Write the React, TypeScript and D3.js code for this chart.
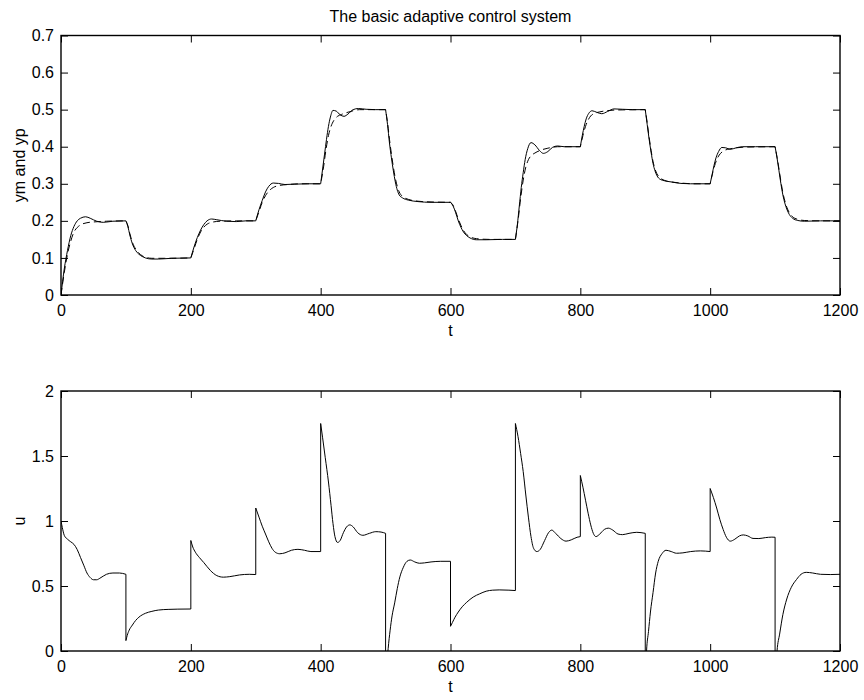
import * as React from "react";
import * as d3 from "d3";

// reference model output ym (dashed) and plant output yp (solid)
const ymData: [number, number][] = [
  [0, 0], [5, 0.06], [10, 0.11], [15, 0.145], [20, 0.17], [25, 0.182], [30, 0.189], [40, 0.195], [50, 0.197], [70, 0.199], [100, 0.2],
  [103, 0.187], [106, 0.166], [110, 0.142], [115, 0.124], [120, 0.113], [125, 0.106], [130, 0.102], [140, 0.099], [160, 0.099], [200, 0.1],
  [205, 0.125], [210, 0.15], [215, 0.17], [220, 0.183], [225, 0.191], [232, 0.196], [245, 0.199], [270, 0.2], [300, 0.2],
  [305, 0.225], [310, 0.25], [315, 0.268], [320, 0.28], [327, 0.29], [335, 0.295], [350, 0.298], [370, 0.3], [400, 0.3],
  [404, 0.34], [408, 0.39], [412, 0.43], [416, 0.455], [420, 0.47], [426, 0.482], [432, 0.487], [440, 0.492], [450, 0.497], [460, 0.5], [500, 0.5],
  [503, 0.465], [506, 0.42], [509, 0.38], [512, 0.345], [515, 0.315], [518, 0.293], [521, 0.278], [526, 0.266], [535, 0.258], [550, 0.253], [570, 0.251], [600, 0.25],
  [604, 0.242], [608, 0.225], [612, 0.205], [616, 0.188], [620, 0.174], [625, 0.163], [630, 0.157], [640, 0.152], [660, 0.15], [700, 0.15],
  [704, 0.2], [708, 0.26], [712, 0.31], [716, 0.345], [720, 0.365], [725, 0.377], [730, 0.383], [738, 0.39], [750, 0.396], [765, 0.4], [800, 0.4],
  [804, 0.43], [808, 0.455], [812, 0.472], [816, 0.483], [822, 0.49], [830, 0.494], [840, 0.497], [855, 0.499], [900, 0.5],
  [903, 0.465], [906, 0.425], [909, 0.39], [912, 0.36], [915, 0.34], [918, 0.327], [923, 0.316], [930, 0.309], [940, 0.305], [955, 0.302], [975, 0.3], [1000, 0.3],
  [1004, 0.33], [1008, 0.355], [1012, 0.372], [1016, 0.382], [1022, 0.39], [1030, 0.394], [1040, 0.397], [1055, 0.399], [1100, 0.4],
  [1103, 0.372], [1106, 0.34], [1109, 0.306], [1112, 0.276], [1115, 0.254], [1118, 0.237], [1122, 0.222], [1127, 0.211], [1135, 0.204], [1145, 0.201], [1170, 0.2], [1200, 0.2],
];

const ypData: [number, number][] = [
  [0, 0], [5, 0.07], [10, 0.12], [15, 0.16], [20, 0.185], [25, 0.2], [30, 0.207], [38, 0.211], [45, 0.207], [55, 0.199], [65, 0.196], [80, 0.199], [100, 0.2],
  [103, 0.185], [106, 0.162], [110, 0.138], [115, 0.12], [120, 0.11], [125, 0.104], [130, 0.1], [140, 0.097], [150, 0.097], [170, 0.099], [200, 0.1],
  [205, 0.13], [210, 0.155], [215, 0.175], [220, 0.19], [225, 0.2], [232, 0.205], [240, 0.203], [255, 0.199], [270, 0.198], [285, 0.2], [300, 0.2],
  [305, 0.23], [310, 0.255], [315, 0.278], [320, 0.293], [327, 0.302], [335, 0.301], [345, 0.298], [360, 0.299], [380, 0.3], [400, 0.3],
  [403, 0.34], [406, 0.38], [409, 0.42], [412, 0.455], [415, 0.48], [419, 0.498], [424, 0.496], [430, 0.486], [436, 0.482], [442, 0.488], [450, 0.5], [458, 0.503], [470, 0.501], [485, 0.5], [500, 0.5],
  [503, 0.46], [506, 0.41], [509, 0.37], [512, 0.335], [515, 0.305], [518, 0.283], [521, 0.27], [526, 0.262], [535, 0.256], [550, 0.252], [570, 0.25], [600, 0.25],
  [604, 0.24], [608, 0.222], [612, 0.2], [616, 0.183], [620, 0.17], [625, 0.16], [630, 0.154], [640, 0.149], [655, 0.149], [680, 0.15], [700, 0.15],
  [703, 0.19], [706, 0.24], [709, 0.29], [712, 0.33], [715, 0.365], [719, 0.395], [724, 0.411], [730, 0.405], [737, 0.39], [743, 0.382], [750, 0.387], [757, 0.398], [765, 0.402], [775, 0.4], [800, 0.4],
  [803, 0.43], [806, 0.455], [809, 0.475], [813, 0.49], [818, 0.497], [825, 0.493], [833, 0.489], [842, 0.495], [852, 0.502], [865, 0.501], [880, 0.5], [900, 0.5],
  [903, 0.46], [906, 0.42], [909, 0.385], [912, 0.355], [915, 0.335], [918, 0.322], [923, 0.312], [930, 0.308], [940, 0.305], [955, 0.301], [970, 0.3], [1000, 0.3],
  [1003, 0.325], [1006, 0.35], [1009, 0.37], [1013, 0.387], [1018, 0.398], [1024, 0.397], [1031, 0.393], [1040, 0.397], [1050, 0.4], [1070, 0.4], [1100, 0.4],
  [1103, 0.37], [1106, 0.335], [1109, 0.3], [1112, 0.27], [1115, 0.248], [1118, 0.232], [1122, 0.217], [1127, 0.207], [1135, 0.201], [1145, 0.199], [1170, 0.2], [1200, 0.2],
];

// control signal u, jumps are written as two points at the same t
const uData: [number, number][] = [
  [0, 1.0], [2, 0.95], [5, 0.89], [10, 0.86], [15, 0.84], [20, 0.82], [25, 0.78], [30, 0.72], [35, 0.66], [40, 0.6], [45, 0.565], [50, 0.548], [55, 0.548], [60, 0.56], [70, 0.59], [80, 0.6], [90, 0.6], [100, 0.59],
  [100, 0.08], [102, 0.12], [105, 0.16], [110, 0.2], [115, 0.235], [120, 0.26], [130, 0.29], [140, 0.305], [150, 0.315], [165, 0.32], [180, 0.322], [200, 0.323],
  [200, 0.85], [203, 0.8], [207, 0.76], [213, 0.72], [220, 0.68], [230, 0.62], [240, 0.58], [250, 0.568], [260, 0.572], [275, 0.585], [290, 0.59], [300, 0.588],
  [300, 1.1], [305, 1.03], [310, 0.96], [315, 0.9], [320, 0.84], [325, 0.79], [330, 0.76], [337, 0.748], [345, 0.755], [355, 0.775], [365, 0.782], [375, 0.775], [385, 0.765], [400, 0.765],
  [400, 1.75], [403, 1.64], [407, 1.49], [412, 1.3], [416, 1.12], [419, 0.98], [422, 0.88], [426, 0.835], [430, 0.85], [435, 0.91], [440, 0.955], [445, 0.97], [450, 0.955], [457, 0.91], [465, 0.89], [475, 0.905], [485, 0.918], [493, 0.915], [500, 0.905],
  [500, -0.3], [502, -0.1], [504, 0.02], [507, 0.16], [510, 0.27], [514, 0.37], [518, 0.48], [522, 0.57], [527, 0.64], [533, 0.69], [538, 0.7], [545, 0.685], [552, 0.675], [560, 0.678], [570, 0.685], [585, 0.69], [600, 0.69],
  [600, 0.19], [603, 0.22], [607, 0.26], [612, 0.3], [618, 0.34], [625, 0.375], [635, 0.415], [645, 0.44], [655, 0.46], [665, 0.468], [675, 0.47], [690, 0.468], [700, 0.465],
  [700, 1.75], [704, 1.65], [708, 1.52], [712, 1.38], [716, 1.2], [720, 1.03], [724, 0.88], [728, 0.79], [733, 0.765], [738, 0.78], [745, 0.85], [751, 0.91], [756, 0.93], [762, 0.905], [770, 0.865], [778, 0.845], [786, 0.855], [795, 0.875], [800, 0.88],
  [800, 1.35], [804, 1.26], [808, 1.16], [812, 1.06], [816, 0.97], [820, 0.905], [824, 0.88], [830, 0.9], [837, 0.935], [843, 0.945], [850, 0.93], [858, 0.9], [865, 0.895], [875, 0.905], [887, 0.913], [900, 0.905],
  [900, -0.25], [902, 0.0], [905, 0.15], [908, 0.3], [912, 0.45], [916, 0.6], [920, 0.69], [926, 0.75], [932, 0.775], [940, 0.765], [948, 0.752], [958, 0.755], [970, 0.765], [985, 0.77], [1000, 0.765],
  [1000, 1.25], [1005, 1.18], [1010, 1.1], [1015, 1.01], [1020, 0.935], [1025, 0.875], [1031, 0.845], [1038, 0.86], [1045, 0.885], [1051, 0.893], [1058, 0.885], [1066, 0.866], [1075, 0.865], [1085, 0.872], [1095, 0.876], [1100, 0.875],
  [1100, -0.25], [1103, 0.0], [1107, 0.13], [1112, 0.28], [1118, 0.4], [1125, 0.49], [1133, 0.55], [1140, 0.59], [1148, 0.605], [1158, 0.6], [1170, 0.59], [1185, 0.588], [1200, 0.59],
];

const stepPeriod = 100;
const xTicks = [0, 200, 400, 600, 800, 1000, 1200];
const yTicksTop = [0, 0.1, 0.2, 0.3, 0.4, 0.5, 0.6, 0.7];
const yTicksBottom = [0, 0.5, 1, 1.5, 2];

const FONT = "'Liberation Sans', Arial, Helvetica, sans-serif";

// split a series at the reference steps so each piece gets its own smooth curve
function splitAtSteps(pts: [number, number][]) {
  const segs: [number, number][][] = [];
  let cur: [number, number][] = [pts[0]];
  for (let i = 1; i < pts.length; i++) {
    const t = pts[i][0];
    const pt = pts[i - 1][0];
    if (t === pt) {
      segs.push(cur);
      cur = [pts[i]];
      continue;
    }
    if (pt % stepPeriod === 0 && i > 1 && cur.length > 1) {
      segs.push(cur);
      cur = [pts[i - 1]];
    }
    cur.push(pts[i]);
  }
  segs.push(cur);
  return segs;
}

function drawPanel(svg, opts) {
  const { left, right, top, bottom, yMax, yTicks, series, yLabel, id } = opts;
  const x = d3.scaleLinear().domain([0, 1200]).range([left, right]);
  const y = d3.scaleLinear().domain([0, yMax]).range([bottom, top]);
  const g = svg.append("g");

  g.append("clipPath")
    .attr("id", id)
    .append("rect")
    .attr("x", left)
    .attr("y", top)
    .attr("width", right - left)
    .attr("height", bottom - top);

  const fmt = (d) => d3.format("~g")(d);
  const tick = 7;

  const bx = g.append("g").attr("transform", `translate(0,${bottom})`)
    .call(d3.axisBottom(x).tickValues(xTicks).tickSizeInner(-tick).tickSizeOuter(0).tickPadding(10).tickFormat(fmt));
  const tx = g.append("g").attr("transform", `translate(0,${top})`)
    .call(d3.axisTop(x).tickValues(xTicks).tickSizeInner(-tick).tickSizeOuter(0).tickFormat(() => ""));
  const ly = g.append("g").attr("transform", `translate(${left},0)`)
    .call(d3.axisLeft(y).tickValues(yTicks).tickSizeInner(-tick).tickSizeOuter(0).tickPadding(7).tickFormat(fmt));
  const ry = g.append("g").attr("transform", `translate(${right},0)`)
    .call(d3.axisRight(y).tickValues(yTicks).tickSizeInner(-tick).tickSizeOuter(0).tickFormat(() => ""));

  [bx, tx, ly, ry].forEach((a) => {
    a.select(".domain").remove();
    a.selectAll("line").attr("stroke", "#000").attr("stroke-width", 1);
    a.selectAll("text").attr("fill", "#000").style("font-family", FONT).style("font-size", "16px");
  });

  g.append("rect")
    .attr("x", left)
    .attr("y", top)
    .attr("width", right - left)
    .attr("height", bottom - top)
    .attr("fill", "none")
    .attr("stroke", "#000")
    .attr("stroke-width", 1.4);

  const line = d3.line().x((d) => x(d[0])).y((d) => y(d[1])).curve(d3.curveMonotoneX);

  series.forEach((s) => {
    const d = splitAtSteps(s.data)
      .map((seg, i) => {
        const p = line(seg);
        return i ? p.replace(/^M/, "L") : p;
      })
      .join("");
    g.append("path")
      .attr("d", d)
      .attr("clip-path", `url(#${id})`)
      .attr("fill", "none")
      .attr("stroke", "#000")
      .attr("stroke-width", 1)
      .attr("stroke-dasharray", s.dash || null);
  });

  g.append("text")
    .attr("x", (left + right) / 2)
    .attr("y", bottom + 41)
    .attr("text-anchor", "middle")
    .style("font-family", FONT)
    .style("font-size", "16px")
    .text("t");

  g.append("text")
    .attr("transform", `translate(25,${(top + bottom) / 2}) rotate(-90)`)
    .attr("text-anchor", "middle")
    .style("font-family", FONT)
    .style("font-size", "16px")
    .text(yLabel);
}

function drawChart(svgRef) {
  const width = 864;
  const height = 700;
  const left = 61;
  const right = 840;

  const svg = d3.select(svgRef.current).attr("width", width).attr("height", height);
  svg.selectAll("*").remove();

  svg.append("rect").attr("width", width).attr("height", height).attr("fill", "#fff");

  svg.append("text")
    .attr("x", (left + right) / 2)
    .attr("y", 22)
    .attr("text-anchor", "middle")
    .style("font-family", FONT)
    .style("font-size", "16px")
    .text("The basic adaptive control system");

  drawPanel(svg, {
    id: "clip-top",
    left,
    right,
    top: 35.5,
    bottom: 295,
    yMax: 0.7,
    yTicks: yTicksTop,
    yLabel: "ym and yp",
    series: [
      { data: ymData, dash: "7,4" },
      { data: ypData },
    ],
  });

  drawPanel(svg, {
    id: "clip-bottom",
    left,
    right,
    top: 391,
    bottom: 651,
    yMax: 2,
    yTicks: yTicksBottom,
    yLabel: "u",
    series: [{ data: uData }],
  });
}

const App = () => {
  const svgRef = React.useRef(null);

  React.useEffect(() => {
    drawChart(svgRef);
  }, [svgRef]);

  return (
    <div id="chart" style={{ position: "absolute", left: 0, top: 0 }}>
      <svg ref={svgRef} style={{ display: "block" }} />
    </div>
  );
};

export default App;
